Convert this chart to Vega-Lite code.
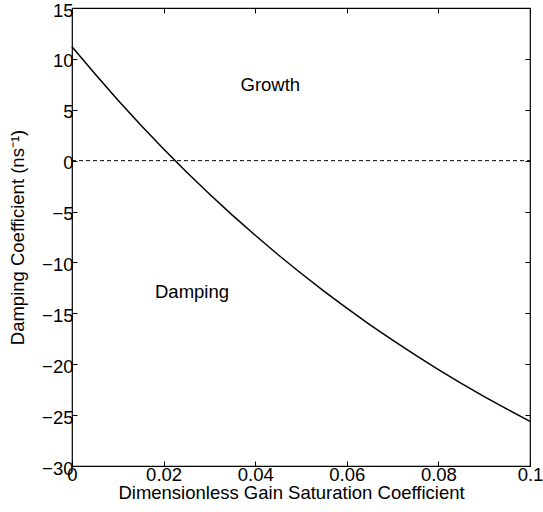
{
  "$schema": "https://vega.github.io/schema/vega-lite/v6.json",
  "width": 458,
  "height": 458,
  "autosize": "none",
  "padding": {"left": 72, "top": 8, "right": 13, "bottom": 46},
  "background": "white",
  "config": {
    "view": {"stroke": "black", "strokeWidth": 1.2},
    "font": "Liberation Sans",
    "axis": {
      "labelFont": "Liberation Sans",
      "titleFont": "Liberation Sans",
      "labelFontSize": 18.5,
      "titleFontSize": 18.5,
      "titleFontWeight": "normal",
      "labelColor": "black",
      "titleColor": "black",
      "domain": false,
      "grid": false,
      "tickColor": "black",
      "tickSize": -5,
      "tickWidth": 1
    }
  },
  "datasets": {
    "curve": [
      {"x": 0, "y": 11.2},
      {"x": 0.005, "y": 8.53},
      {"x": 0.01, "y": 5.96},
      {"x": 0.015, "y": 3.5},
      {"x": 0.02, "y": 1.15},
      {"x": 0.025, "y": -1.11},
      {"x": 0.03, "y": -3.27},
      {"x": 0.035, "y": -5.35},
      {"x": 0.04, "y": -7.33},
      {"x": 0.045, "y": -9.24},
      {"x": 0.05, "y": -11.06},
      {"x": 0.055, "y": -12.81},
      {"x": 0.06, "y": -14.49},
      {"x": 0.065, "y": -16.1},
      {"x": 0.07, "y": -17.63},
      {"x": 0.075, "y": -19.11},
      {"x": 0.08, "y": -20.53},
      {"x": 0.085, "y": -21.88},
      {"x": 0.09, "y": -23.18},
      {"x": 0.095, "y": -24.42},
      {"x": 0.1, "y": -25.62}
    ],
    "zero": [{"x": 0, "y": 0}, {"x": 0.1, "y": 0}],
    "labels": [
      {"x": 0.0433, "y": 7.4, "text": "Growth"},
      {"x": 0.0262, "y": -12.9, "text": "Damping"}
    ]
  },
  "resolve": {"axis": {"x": "independent", "y": "independent"}},
  "layer": [
    {
      "data": {"name": "zero"},
      "mark": {"type": "line", "color": "black", "strokeDash": [4, 3], "strokeWidth": 1},
      "encoding": {
        "x": {"field": "x", "type": "quantitative", "scale": {"domain": [0, 0.1], "nice": false},
          "axis": {"orient": "top", "labels": false, "title": null, "values": [0, 0.02, 0.04, 0.06, 0.08, 0.1]}},
        "y": {"field": "y", "type": "quantitative", "scale": {"domain": [-30, 15], "nice": false},
          "axis": {"orient": "right", "labels": false, "title": null, "values": [-30, -25, -20, -15, -10, -5, 0, 5, 10, 15]}}
      }
    },
    {
      "data": {"name": "curve"},
      "mark": {"type": "line", "color": "black", "strokeWidth": 1.5},
      "encoding": {
        "x": {"field": "x", "type": "quantitative", "scale": {"domain": [0, 0.1], "nice": false},
          "axis": {"orient": "bottom", "title": "Dimensionless Gain Saturation Coefficient", "values": [0, 0.02, 0.04, 0.06, 0.08, 0.1], "format": "~g", "labelPadding": 4, "titlePadding": 0, "titleX": 219, "labelFlush": false}},
        "y": {"field": "y", "type": "quantitative", "scale": {"domain": [-30, 15], "nice": false},
          "axis": {"orient": "left", "title": "Damping Coefficient (ns⁻¹)", "values": [-30, -25, -20, -15, -10, -5, 0, 5, 10, 15], "labelPadding": 4, "labelOffset": 2, "titlePadding": 14, "labelFlush": false}}
      }
    },
    {
      "data": {"name": "labels"},
      "mark": {"type": "text", "fontSize": 18.5, "font": "Liberation Sans", "color": "black"},
      "encoding": {
        "x": {"field": "x", "type": "quantitative", "axis": null},
        "y": {"field": "y", "type": "quantitative", "axis": null},
        "text": {"field": "text"}
      }
    }
  ]
}
